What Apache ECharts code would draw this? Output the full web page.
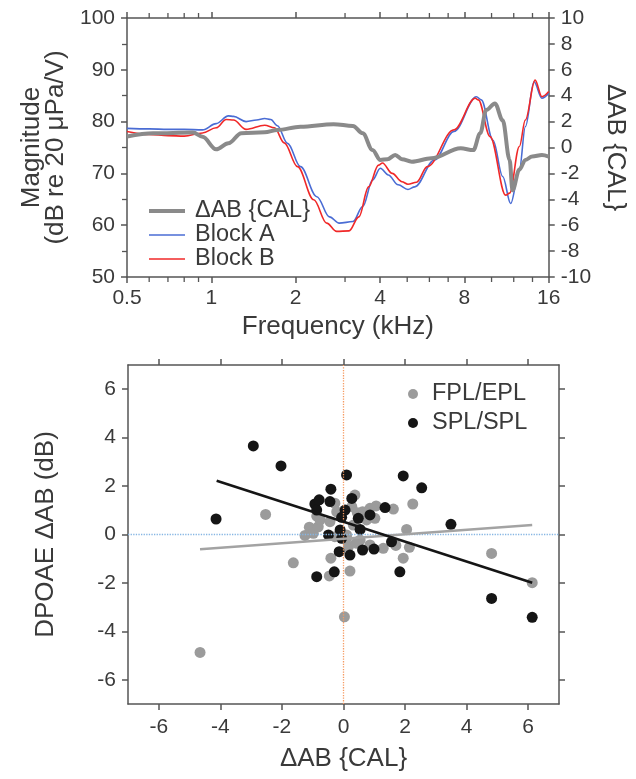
<!DOCTYPE html>
<html>
<head>
<meta charset="utf-8">
<script src="https://cdn.jsdelivr.net/npm/echarts@6/dist/echarts.min.js"></script>
<style>
  html, body { margin: 0; padding: 0; background: #fff; }
  #chart { width: 636px; height: 779px; }
</style>
</head>
<body>
<div id="chart"></div>
<script>
// ---- Upper panel: transfer functions vs frequency (kHz) ----
const blockA = [[0.5,78.7],[0.6,78.6],[0.7,78.5],[0.8,78.5],[0.93,78.4],[1.04,79.6],[1.15,81.1],[1.2,81.0],[1.33,80.0],[1.45,80.3],[1.55,80.6],[1.63,80.4],[1.72,79.2],[1.87,75.8],[2.08,71.3],[2.38,65.5],[2.64,61.6],[2.86,60.4],[3.2,60.7],[3.47,63.6],[3.76,68.7],[4.01,71.0],[4.28,69.7],[4.64,67.8],[5.03,66.9],[5.32,67.4],[6.25,72.6],[7.34,78.1],[8.83,84.8],[9.19,84.2],[10.12,76.4],[10.96,69.4],[11.7,64.2],[12.57,70.7],[13.2,79.0],[14.18,87.7],[15.13,84.5],[16,85.5]];
const blockB = [[0.5,78.1],[0.6,77.5],[0.7,77.3],[0.8,77.2],[0.93,77.8],[1.04,78.8],[1.13,80.4],[1.2,80.3],[1.33,78.5],[1.55,79.3],[1.68,78.8],[1.82,75.9],[2.03,71.3],[2.32,64.9],[2.58,60.4],[2.8,58.8],[3.1,58.9],[3.36,61.6],[3.64,67.4],[3.95,71.6],[4.08,72.0],[4.42,70.0],[4.79,68.4],[5.03,67.9],[5.4,68.3],[5.9,71.3],[7.34,78.4],[8.75,84.5],[8.97,84.2],[9.88,77.1],[11.23,65.8],[11.6,66.2],[12.57,75.2],[13.2,80.3],[14.3,88.0],[15.13,84.8],[16,85.8]];
const deltaAB = [[0.5,0.85],[0.62,1.1],[0.86,1.15],[0.93,0.83],[1.04,-0.14],[1.15,0.32],[1.28,1.1],[1.55,1.17],[1.72,1.35],[2.08,1.6],[2.73,1.8],[3.2,1.66],[3.47,1.1],[3.76,-0.2],[4.01,-0.96],[4.25,-0.9],[4.53,-0.58],[4.79,-0.9],[5.19,-1.1],[6.1,-0.83],[7.76,-0.06],[8.61,-0.2],[9.11,1.1],[9.57,2.9],[10.28,3.4],[10.96,2.1],[11.6,-0.96],[11.88,-3.3],[12.57,-1.7],[13.2,-0.96],[13.96,-0.7],[15.13,-0.58],[16,-0.7]];
const minorFreqs = [0.6, 0.7, 0.8, 0.9, 3, 5, 6, 7, 10, 12, 14];

// ---- Lower panel: DPOAE difference vs calibration difference ----
const fplEpl = [[-4.66,-4.87],[-2.53,0.83],[-1.63,-1.17],[-1.25,-0.04],[-1.11,0.30],[-0.98,0.05],[-0.87,0.76],[-0.82,0.32],[-0.76,0.60],[-0.46,-1.71],[-0.44,0.53],[-0.41,-0.98],[-0.28,-0.09],[-0.28,1.29],[-0.22,0.94],[0.03,-3.40],[0.10,-0.16],[0.10,-0.02],[0.16,-0.50],[0.21,-1.51],[0.27,1.15],[0.32,0.39],[0.37,1.63],[0.41,-0.36],[0.45,0.90],[0.54,-0.23],[0.62,0.94],[0.75,0.60],[0.86,1.08],[0.86,-0.43],[1.02,0.67],[1.06,1.18],[1.29,-0.57],[1.62,1.05],[1.70,-0.45],[1.94,-0.98],[2.05,0.21],[2.14,-0.53],[2.25,1.26],[4.81,-0.78],[6.13,-1.99]];
const splSpl = [[-4.14,0.64],[-2.93,3.66],[-2.03,2.83],[-0.93,1.26],[-0.87,1.01],[-0.79,1.43],[-0.87,-1.74],[-0.49,-0.02],[-0.44,1.36],[-0.41,1.87],[-0.30,-1.54],[-0.14,-0.71],[-0.11,0.19],[-0.06,0.71],[-0.06,-0.16],[0.05,1.01],[0.10,2.46],[0.21,-0.85],[0.27,1.49],[0.48,0.67],[0.54,0.21],[0.62,-0.64],[0.86,0.81],[0.99,-0.60],[1.35,1.11],[1.56,-0.30],[1.83,-1.54],[1.94,2.42],[2.54,1.93],[3.49,0.42],[4.81,-2.64],[6.13,-3.42]];
const fitFplEpl = [[-4.66,-0.61],[6.13,0.39]];
const fitSplSpl = [[-4.12,2.22],[6.13,-1.99]];
const scatterTicks = [-6, -4, -2, 0, 2, 4, 6];

const FONT = 'Liberation Sans, Arial, Helvetica, sans-serif';
const TXT = '#3a3a3a';
const AX = '#555';
const C_A = '#4a6cd4', C_B = '#f02828', C_D = '#8a8a8a';

const axisLine = { show: true, onZero: false, lineStyle: { color: AX, width: 1.5 } };
const tickOut = { show: true, inside: false, length: 6, lineStyle: { color: AX, width: 1.5 } };
const lbl = { color: TXT, fontSize: 21, fontFamily: FONT };
const nameStyle = { color: TXT, fontSize: 26, fontFamily: FONT, lineHeight: 24 };

// flat bar icons for the line legend (thick for ΔAB, thin for the blocks)
const thickIcon = 'path://M0,0L36,0L36,4L0,4Z';
const thinIcon = 'path://M0,0L36,0L36,1.6L0,1.6Z';

const chart = echarts.init(document.getElementById('chart'), null, { renderer: 'canvas' });

chart.setOption({
  backgroundColor: '#fff',
  animation: false,
  textStyle: { fontFamily: FONT },
  grid: [
    { left: 127, top: 18, width: 432, height: 259 },
    { left: 128, top: 365, width: 431, height: 339 }
  ],
  legend: [
    {
      data: [
        { name: 'ΔAB {CAL}', icon: thickIcon },
        { name: 'Block A', icon: thinIcon },
        { name: 'Block B', icon: thinIcon }
      ],
      orient: 'vertical', left: 144, top: 194,
      itemWidth: 36, itemHeight: 14, itemGap: 0,
      textStyle: { color: TXT, fontSize: 23.5, fontFamily: FONT, lineHeight: 21, padding: [0, 0, 0, 5] },
      selectedMode: false
    },
    {
      data: ['FPL/EPL', 'SPL/SPL'],
      orient: 'vertical', left: 403, top: 377,
      icon: 'circle', itemWidth: 10, itemHeight: 10, itemGap: 5,
      textStyle: { color: TXT, fontSize: 23.5, fontFamily: FONT, padding: [0, 0, 0, 9] },
      selectedMode: false
    }
  ],
  xAxis: [
    {
      type: 'log', logBase: 2, gridIndex: 0, position: 'bottom', min: 0.5, max: 16,
      axisLine, axisTick: tickOut, splitLine: { show: false },
      axisLabel: Object.assign({ margin: 11 }, lbl),
      name: 'Frequency (kHz)', nameLocation: 'middle', nameGap: 38, nameTextStyle: nameStyle
    },
    {
      type: 'log', logBase: 2, gridIndex: 0, position: 'top', min: 0.5, max: 16,
      axisLine, axisTick: tickOut, axisLabel: { show: false }, splitLine: { show: false }
    },
    {
      type: 'value', gridIndex: 1, position: 'bottom', min: -7, max: 7,
      axisLine, splitLine: { show: false },
      axisTick: Object.assign({ customValues: scatterTicks }, tickOut),
      axisLabel: Object.assign({ customValues: scatterTicks, margin: 13 }, lbl),
      name: 'ΔAB {CAL}', nameLocation: 'middle', nameGap: 43, nameTextStyle: nameStyle
    },
    {
      type: 'value', gridIndex: 1, position: 'top', min: -7, max: 7,
      axisLine, splitLine: { show: false },
      axisTick: Object.assign({ customValues: scatterTicks }, tickOut),
      axisLabel: { show: false }
    }
  ],
  yAxis: [
    {
      type: 'value', gridIndex: 0, position: 'left', min: 50, max: 100, interval: 10,
      axisLine, axisTick: tickOut, splitLine: { show: false },
      minorTick: { show: true, splitNumber: 2, length: 5, lineStyle: { color: AX, width: 1.3 } },
      minorSplitLine: { show: false },
      axisLabel: Object.assign({ margin: 12 }, lbl),
      name: 'Magnitude\n(dB re 20 μPa/V)', nameLocation: 'middle', nameRotate: 90, nameGap: 59,
      nameTextStyle: nameStyle
    },
    {
      type: 'value', gridIndex: 0, position: 'right', min: -10, max: 10, interval: 2,
      axisLine, axisTick: tickOut, splitLine: { show: false },
      axisLabel: Object.assign({ margin: 12 }, lbl),
      name: 'ΔAB {CAL}', nameLocation: 'middle', nameRotate: -90, nameGap: 52,
      nameTextStyle: nameStyle
    },
    {
      type: 'value', gridIndex: 1, position: 'left', min: -7, max: 7,
      axisLine, splitLine: { show: false },
      axisTick: Object.assign({ customValues: scatterTicks }, tickOut),
      axisLabel: Object.assign({ customValues: scatterTicks, margin: 12 }, lbl),
      name: 'DPOAE ΔAB (dB)', nameLocation: 'middle', nameRotate: 90, nameGap: 70,
      nameTextStyle: nameStyle
    },
    {
      type: 'value', gridIndex: 1, position: 'right', min: -7, max: 7,
      axisLine, splitLine: { show: false },
      axisTick: Object.assign({ customValues: scatterTicks }, tickOut),
      axisLabel: { show: false }
    }
  ],
  series: [
    {
      name: 'Block A', type: 'line', xAxisIndex: 0, yAxisIndex: 0, data: blockA,
      symbol: 'none', smooth: 0.35, smoothMonotone: 'x',
      lineStyle: { color: C_A, width: 1.6 }, itemStyle: { color: C_A }, z: 3
    },
    {
      name: 'Block B', type: 'line', xAxisIndex: 0, yAxisIndex: 0, data: blockB,
      symbol: 'none', smooth: 0.35, smoothMonotone: 'x',
      lineStyle: { color: C_B, width: 1.6 }, itemStyle: { color: C_B }, z: 4
    },
    {
      name: 'ΔAB {CAL}', type: 'line', xAxisIndex: 0, yAxisIndex: 1, data: deltaAB,
      symbol: 'none', smooth: 0.35, smoothMonotone: 'x',
      lineStyle: { color: C_D, width: 4 }, itemStyle: { color: C_D }, z: 5
    },
    {
      // minor ticks of the log frequency axis, top and bottom
      type: 'custom', xAxisIndex: 0, yAxisIndex: 0, silent: true, clip: false,
      data: minorFreqs.map(f => [f]), encode: { x: 0 },
      renderItem: function (params, api) {
        const x = api.coord([api.value(0), 75])[0];
        const r = params.coordSys;
        const st = { stroke: AX, lineWidth: 1.3 };
        return {
          type: 'group', children: [
            { type: 'line', shape: { x1: x, y1: r.y, x2: x, y2: r.y - 5 }, style: st },
            { type: 'line', shape: { x1: x, y1: r.y + r.height, x2: x, y2: r.y + r.height + 5 }, style: st }
          ]
        };
      }
    },
    {
      name: 'FPL/EPL', type: 'scatter', xAxisIndex: 2, yAxisIndex: 2, data: fplEpl,
      symbolSize: 11, itemStyle: { color: '#9b9b9b', opacity: 1 }, z: 3,
      markLine: {
        silent: true, symbol: 'none', label: { show: false },
        data: [
          { xAxis: 0, lineStyle: { color: '#f59a62', type: 'dotted', width: 1.3 } },
          { yAxis: 0, lineStyle: { color: '#86b6e3', type: 'dotted', width: 1.3 } }
        ]
      }
    },
    {
      name: 'SPL/SPL', type: 'scatter', xAxisIndex: 2, yAxisIndex: 2, data: splSpl,
      symbolSize: 11, itemStyle: { color: '#151515', opacity: 1 }, z: 4
    },
    {
      type: 'line', xAxisIndex: 2, yAxisIndex: 2, data: fitFplEpl, symbol: 'none',
      lineStyle: { color: '#a3a3a3', width: 2.5 }, z: 5, silent: true
    },
    {
      type: 'line', xAxisIndex: 2, yAxisIndex: 2, data: fitSplSpl, symbol: 'none',
      lineStyle: { color: '#151515', width: 2.5 }, z: 6, silent: true
    }
  ]
});
</script>
</body>
</html>
